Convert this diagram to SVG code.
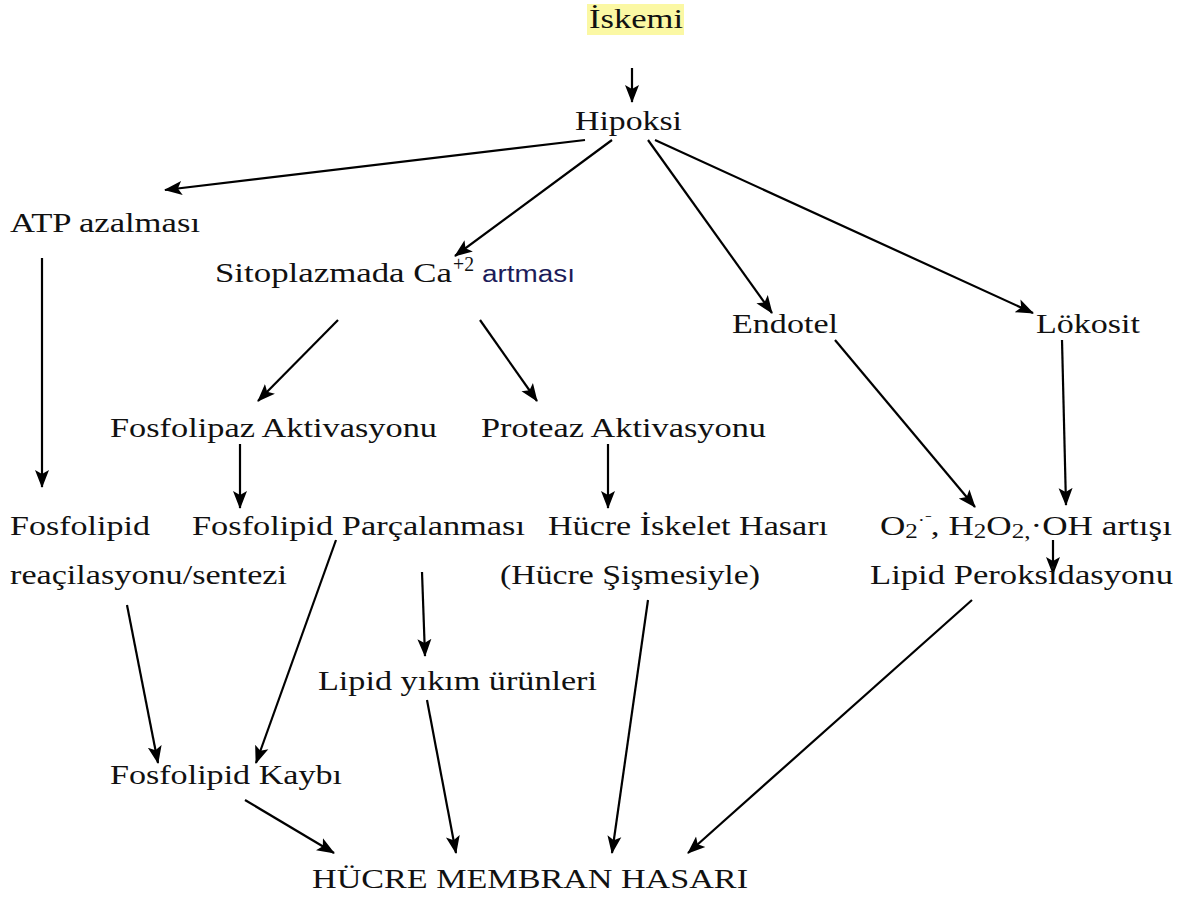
<svg xmlns="http://www.w3.org/2000/svg" width="1181" height="902" viewBox="0 0 1181 902">
<style>
text{font-family:"Liberation Serif","Times New Roman",serif;font-size:28px;fill:#111}
.sans{font-family:"Liberation Sans",Arial,sans-serif;font-size:23px;fill:#1c1c5a}
.c{stroke:#000;stroke-width:2.2;fill:none;marker-end:url(#ah)}
</style>
<defs>
<marker id="ah" markerUnits="userSpaceOnUse" markerWidth="20" markerHeight="16" refX="17" refY="8" orient="auto">
<path d="M0,1 L18,8 L0,15 L4,8 Z" fill="#000"/>
</marker>
</defs>
<rect width="1181" height="902" fill="#fff"/>
<g id="connectors">
<line class="c" x1="632" y1="68" x2="632" y2="102"/>
<line class="c" x1="585" y1="140" x2="165" y2="190"/>
<line class="c" x1="612" y1="140" x2="455" y2="256"/>
<line class="c" x1="648" y1="140" x2="772" y2="313"/>
<line class="c" x1="655" y1="140" x2="1033" y2="313"/>
<line class="c" x1="42" y1="258" x2="42" y2="487"/>
<line class="c" x1="338" y1="320" x2="258" y2="401"/>
<line class="c" x1="480" y1="320" x2="537" y2="401"/>
<line class="c" x1="240" y1="444" x2="240" y2="508"/>
<line class="c" x1="608" y1="444" x2="608" y2="508"/>
<line class="c" x1="835" y1="340" x2="975" y2="507"/>
<line class="c" x1="1062" y1="340" x2="1066" y2="505"/>
<line class="c" x1="1053" y1="540" x2="1053" y2="574"/>
<line class="c" x1="127" y1="605" x2="158" y2="763"/>
<line class="c" x1="336" y1="540" x2="256" y2="763"/>
<line class="c" x1="422" y1="572" x2="425" y2="656"/>
<line class="c" x1="427" y1="700" x2="456" y2="853"/>
<line class="c" x1="245" y1="800" x2="334" y2="853"/>
<line class="c" x1="648" y1="600" x2="612" y2="853"/>
<line class="c" x1="972" y1="600" x2="688" y2="853"/>
</g>
<g id="iskemi">
<rect x="587" y="4" width="97" height="31" fill="#fbf8a4"/>
<text x="589" y="28" textLength="94" lengthAdjust="spacingAndGlyphs">İskemi</text>
</g>
<g id="hipoksi"><text x="575" y="130" textLength="107" lengthAdjust="spacingAndGlyphs">Hipoksi</text></g>
<g id="atp"><text x="10" y="232" textLength="190" lengthAdjust="spacingAndGlyphs">ATP azalması</text></g>
<g id="ca">
<text x="215" y="282" textLength="237" lengthAdjust="spacingAndGlyphs">Sitoplazmada Ca</text>
<text x="453" y="271" style="font-size:20px" textLength="21" lengthAdjust="spacingAndGlyphs">+2</text>
<text class="sans" x="482" y="282" textLength="93" lengthAdjust="spacingAndGlyphs">artması</text>
</g>
<g id="endotel"><text x="732" y="333" textLength="106" lengthAdjust="spacingAndGlyphs">Endotel</text></g>
<g id="lokosit"><text x="1036" y="333" textLength="104" lengthAdjust="spacingAndGlyphs">Lökosit</text></g>
<g id="fosfolipaz"><text x="110" y="437" textLength="327" lengthAdjust="spacingAndGlyphs">Fosfolipaz Aktivasyonu</text></g>
<g id="proteaz"><text x="481" y="437" textLength="285" lengthAdjust="spacingAndGlyphs">Proteaz Aktivasyonu</text></g>
<g id="reacilasyon">
<text x="10" y="535" textLength="140" lengthAdjust="spacingAndGlyphs">Fosfolipid</text>
<text x="10" y="584" textLength="277" lengthAdjust="spacingAndGlyphs">reaçilasyonu/sentezi</text>
</g>
<g id="parcalanma"><text x="192" y="535" textLength="333" lengthAdjust="spacingAndGlyphs">Fosfolipid Parçalanması</text></g>
<g id="iskelet">
<text x="548" y="535" textLength="280" lengthAdjust="spacingAndGlyphs">Hücre İskelet Hasarı</text>
<text x="500" y="584" textLength="260" lengthAdjust="spacingAndGlyphs">(Hücre Şişmesiyle)</text>
</g>
<g id="radikal">
<text x="880" y="535" textLength="292" lengthAdjust="spacingAndGlyphs">O<tspan dy="3" style="font-size:20px">2</tspan><tspan dy="-12" style="font-size:16px">·⁻</tspan><tspan dy="9">, H</tspan><tspan dy="3" style="font-size:20px">2</tspan><tspan dy="-3">O</tspan><tspan dy="3" style="font-size:20px">2</tspan><tspan style="font-size:20px">,</tspan><tspan dy="-3">·OH artışı</tspan></text>
</g>
<g id="peroksidasyon"><text x="870" y="584" textLength="303" lengthAdjust="spacingAndGlyphs">Lipid Peroksidasyonu</text></g>
<g id="yikim"><text x="318" y="690" textLength="279" lengthAdjust="spacingAndGlyphs">Lipid yıkım ürünleri</text></g>
<g id="kayip"><text x="110" y="784" textLength="232" lengthAdjust="spacingAndGlyphs">Fosfolipid Kaybı</text></g>
<g id="hasar"><text x="312" y="888" textLength="436" lengthAdjust="spacingAndGlyphs">HÜCRE MEMBRAN HASARI</text></g>
</svg>
